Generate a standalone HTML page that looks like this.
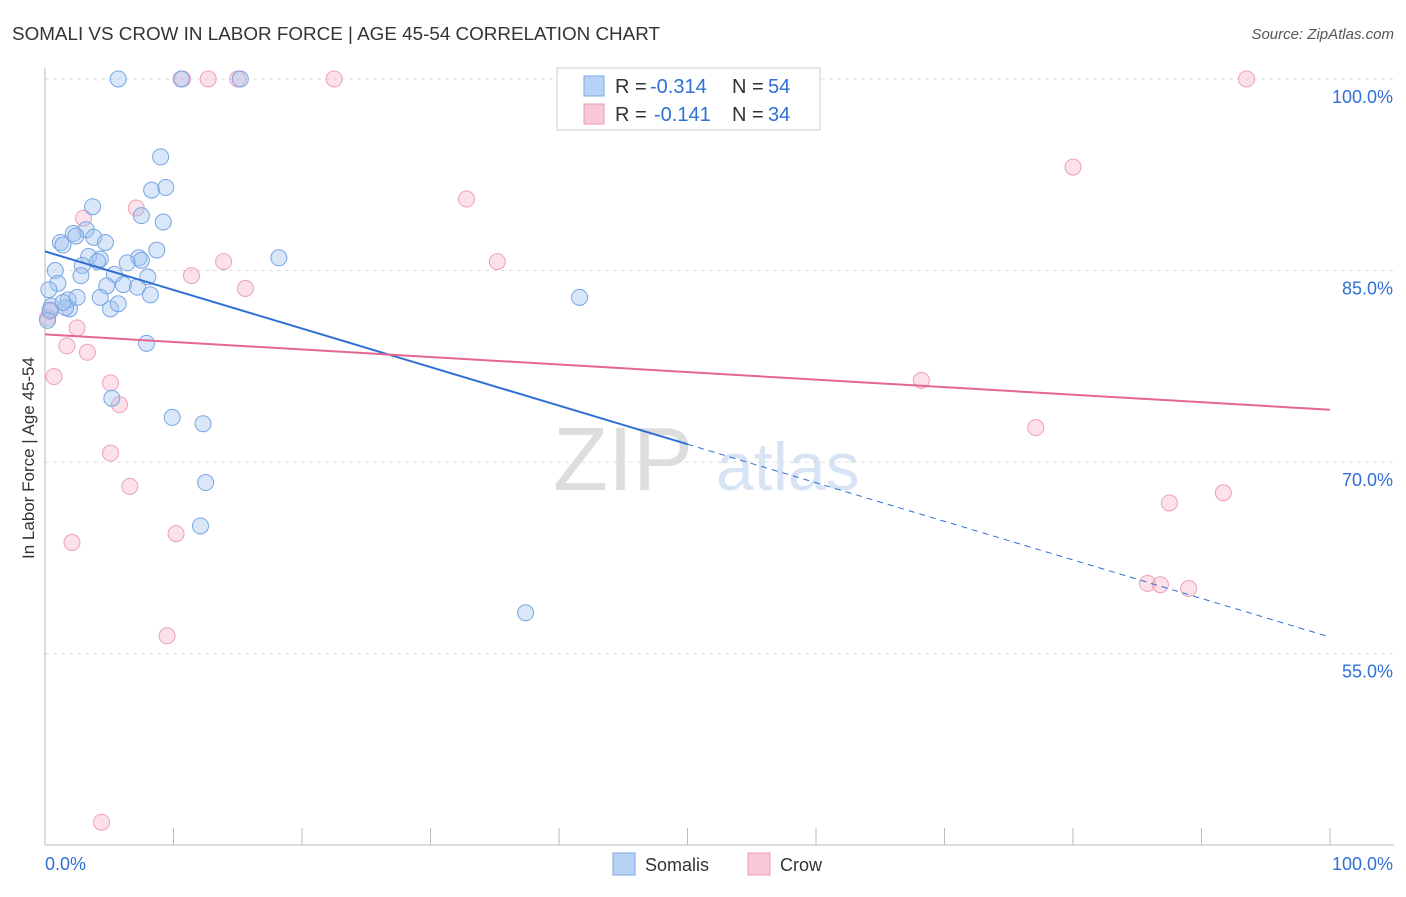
<!DOCTYPE html>
<html><head><meta charset="utf-8"><style>
body{margin:0;background:#fff;font-family:"Liberation Sans",sans-serif;}
svg text{font-family:"Liberation Sans",sans-serif;}
</style></head><body>
<svg id="c" width="1406" height="892">
<text x="12" y="40" font-size="18" fill="#333" textLength="648" lengthAdjust="spacingAndGlyphs">SOMALI VS CROW IN LABOR FORCE | AGE 45-54 CORRELATION CHART</text>
<text x="1394" y="39" font-size="15" fill="#555" text-anchor="end" font-style="italic">Source: ZipAtlas.com</text>
<text x="34" y="458" font-size="17" fill="#333" text-anchor="middle" transform="rotate(-90 34 458)">In Labor Force | Age 45-54</text>
<text x="553" y="490" font-size="90" fill="#ddd" font-family="Liberation Serif">ZIP</text>
<text x="716" y="490" font-size="68" fill="#d6e4f5">atlas</text>
<g id="grid"></g><g id="pts"></g><g id="lines"></g>
<g>
<rect x="557" y="68" width="263" height="62" fill="#fff" stroke="#ccc"/>
<rect x="584" y="76" width="20" height="20" fill="#b8d3f5" stroke="#7aa8e6"/>
<rect x="584" y="104" width="20" height="20" fill="#f9c8d6" stroke="#ec9ab4"/>
<g font-size="20">
<text x="615" y="93" fill="#333">R =</text><text x="650" y="93" fill="#2f6fd6">-0.314</text>
<text x="732" y="93" fill="#333">N =</text><text x="768" y="93" fill="#2f6fd6">54</text></g>
<g font-size="20">
<text x="615" y="121" fill="#333">R =</text><text x="654" y="121" fill="#2f6fd6">-0.141</text>
<text x="732" y="121" fill="#333">N =</text><text x="768" y="121" fill="#2f6fd6">34</text></g>
</g>
<rect x="613" y="853" width="22" height="22" fill="#b8d3f5" stroke="#7aa8e6"/>
<text x="645" y="871" font-size="18" fill="#333">Somalis</text>
<rect x="748" y="853" width="22" height="22" fill="#f9c8d6" stroke="#ec9ab4"/>
<text x="780" y="871" font-size="18" fill="#333">Crow</text>
</svg>
<script>
const yTicks=[100,85,70,55];
const xTickLabels=["0.0%","100.0%"];
const somaliX=[5.7,10.6,15.2,9.0,8.3,9.4,3.7,7.5,9.2,3.2,2.2,1.2,1.4,2.4,3.8,4.7,8.7,3.4,4.3,7.3,7.5,6.4,18.2,0.8,2.9,5.4,8.0,1.0,2.8,0.3,4.8,6.1,7.2,8.2,4.3,1.8,2.5,0.5,1.9,5.1,5.7,41.6,7.9,5.2,9.9,12.3,12.5,12.1,37.4,0.2,1.6,0.4,1.4,4.1];
const somaliY=[100,100,100,93.9,91.3,91.5,90.0,89.3,88.8,88.2,87.9,87.2,87.0,87.7,87.6,87.2,86.6,86.1,85.9,86.0,85.8,85.6,86.0,85.0,85.4,84.7,84.5,84.0,84.6,83.5,83.8,83.9,83.7,83.1,82.9,82.7,82.9,82.2,82.0,82.0,82.4,82.9,79.3,75.0,73.5,73.0,68.4,65.0,58.2,81.1,82.1,81.9,82.5,85.7];
const crowX=[10.7,12.7,15.0,22.5,93.5,80.0,32.8,7.1,3.0,13.9,35.2,11.4,15.6,0.4,2.5,1.7,3.3,0.7,5.1,68.2,5.8,77.1,5.1,6.6,87.5,91.7,2.1,10.2,85.8,86.8,89.0,9.5,4.4,0.2];
const crowY=[100,100,100,100,100,93.1,90.6,89.9,89.1,85.7,85.7,84.6,83.6,81.8,80.5,79.1,78.6,76.7,76.2,76.4,74.5,72.7,70.7,68.1,66.8,67.6,63.7,64.4,60.5,60.4,60.1,56.4,41.8,81.3];
const somaliTrend=[86.5,56.3];
const crowTrend=[80.0,74.1];
const NS="http://www.w3.org/2000/svg";
const X=v=>45+v*12.85, Y=v=>79+(100-v)*12.77;
function mk(t,a,p){const e=document.createElementNS(NS,t);for(const k in a)e.setAttribute(k,a[k]);p.appendChild(e);return e;}
const grid=document.getElementById('grid');
yTicks.forEach(t=>{
 const l=mk('line',{x1:45,x2:1394,y1:Y(t),y2:Y(t),stroke:'#ddd','stroke-dasharray':'4,4'},grid);
 
 
 const tx=mk('text',{x:1393,y:Y(t)+24,'font-size':18,fill:'#2f6fd6','text-anchor':'end'},grid);
 tx.textContent=t.toFixed(1)+'%';
 
 
});
const ax=mk('line',{x1:45,x2:45,y1:68,y2:845,stroke:'#bbb'},grid);


const bx=mk('line',{x1:45,x2:1394,y1:845,y2:845,stroke:'#bbb'},grid);


for(let i=0;i<=10;i++){const t=mk('line',{x1:X(i*10),x2:X(i*10),y1:828,y2:845,stroke:'#bbb'},grid);
 
 }
[[0,45,'start'],[100,1393,'end']].forEach((d,i)=>{const t=mk('text',{x:d[1],y:870,'font-size':18,fill:'#2f6fd6','text-anchor':d[2]},grid);t.textContent=xTickLabels[i];
 
 });
const pts=document.getElementById('pts');
crowX.forEach((x,i)=>{const c=mk('circle',{cx:X(x),cy:Y(crowY[i]),r:8,fill:'rgba(246,170,195,0.35)',stroke:'#eea0ba','stroke-width':1},pts);
 
 });
somaliX.forEach((x,i)=>{const c=mk('circle',{cx:X(x),cy:Y(somaliY[i]),r:8,fill:'rgba(160,196,240,0.4)',stroke:'#78a6e4','stroke-width':1},pts);
 
 });
const L=document.getElementById('lines');
const sy=x=>somaliTrend[0]+(somaliTrend[1]-somaliTrend[0])*x/100;
const s1=mk('line',{x1:X(0),y1:Y(sy(0)),x2:X(50),y2:Y(sy(50)),stroke:'#2f6fd6','stroke-width':2},L);


const s2=mk('line',{x1:X(50),y1:Y(sy(50)),x2:X(100),y2:Y(sy(100)),stroke:'#2f6fd6','stroke-width':1,'stroke-dasharray':'6,5'},L);


const c1=mk('line',{x1:X(0),y1:Y(crowTrend[0]),x2:X(100),y2:Y(crowTrend[1]),stroke:'#e5668f','stroke-width':2},L);


</script>
</body></html>
